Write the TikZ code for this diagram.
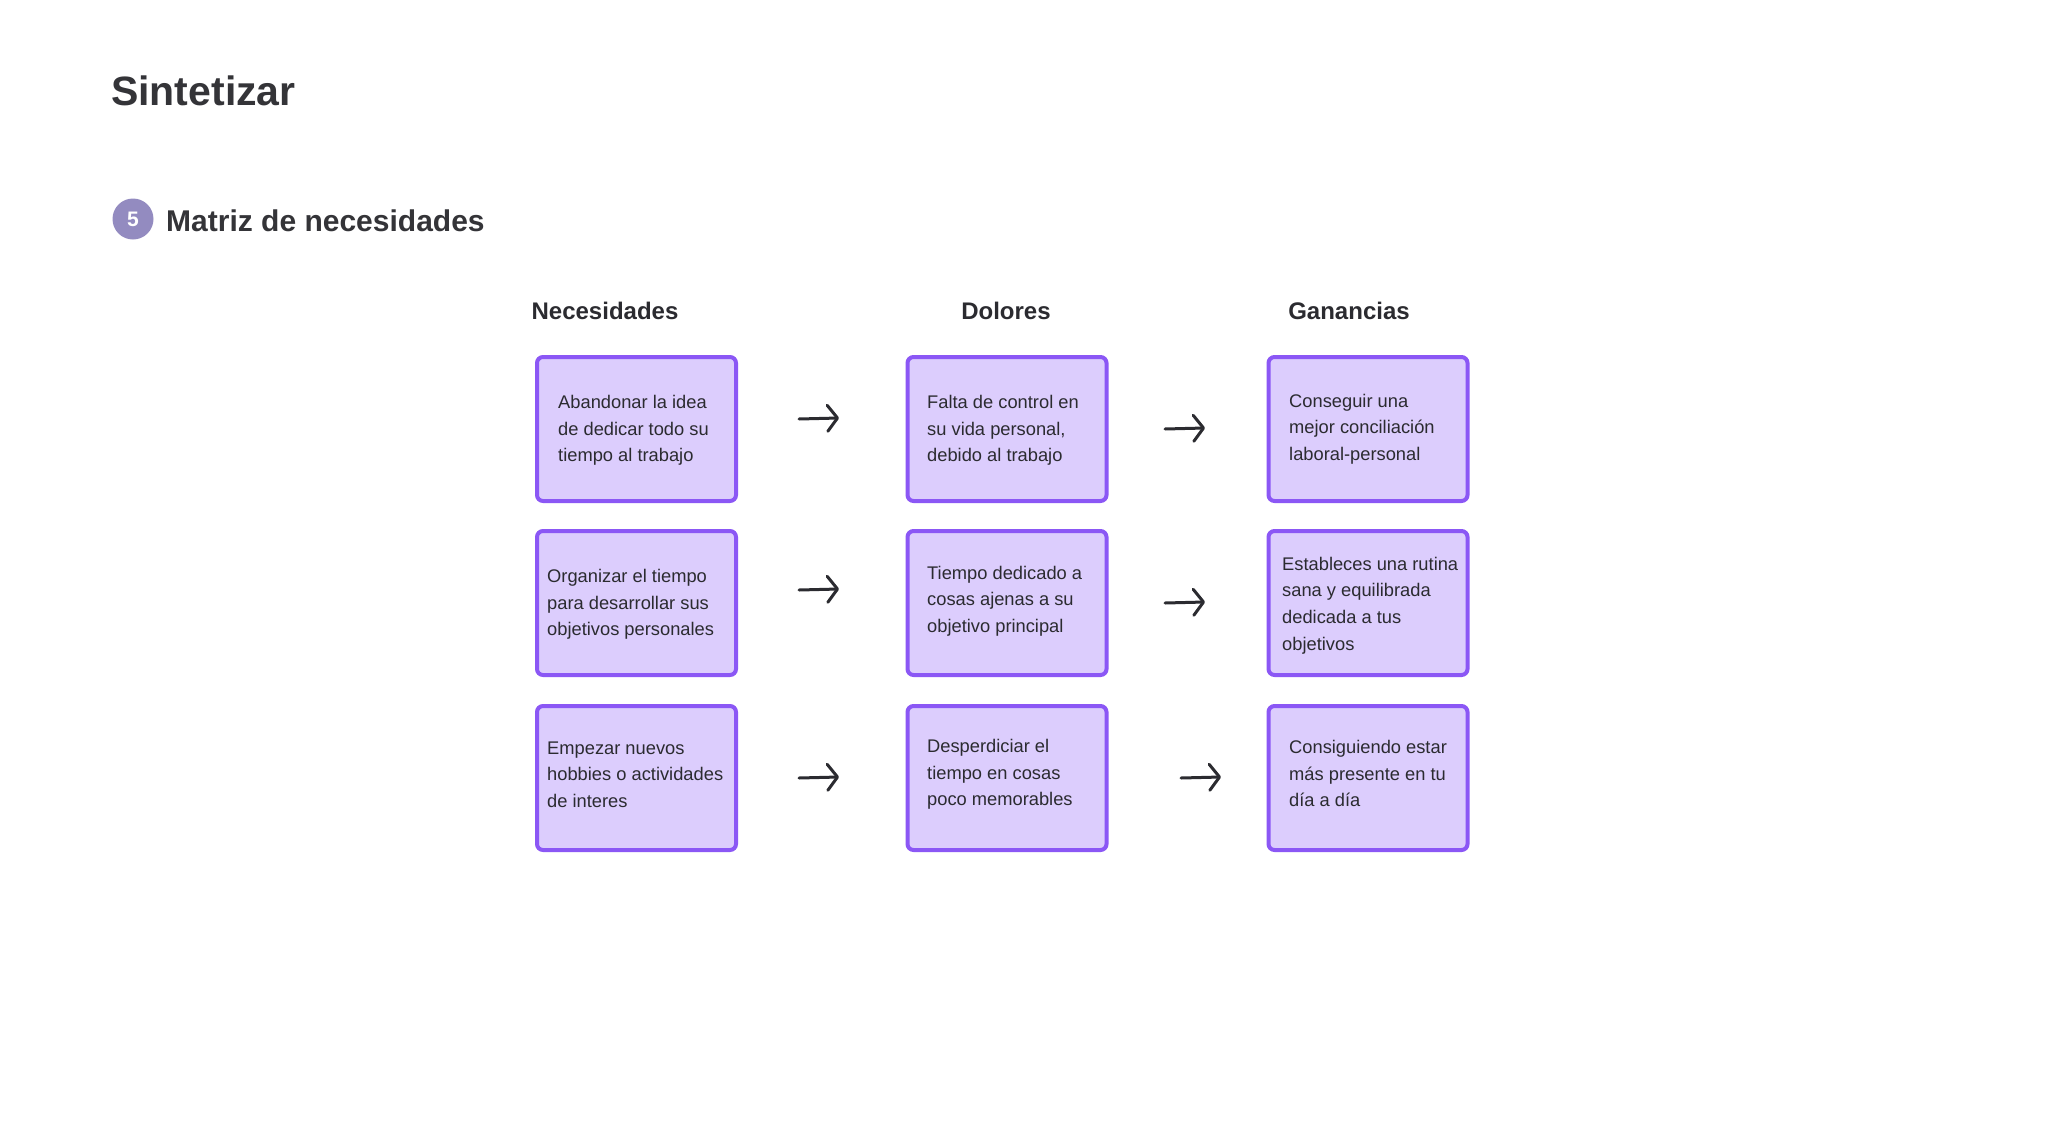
\documentclass[tikz,border=0pt]{standalone}
\usepackage{fontspec}
\setmainfont{Liberation Sans}
\usetikzlibrary{arrows.meta}
\definecolor{boxfill}{HTML}{DCCDFD}
\definecolor{boxline}{HTML}{8B57F5}
\definecolor{ink}{HTML}{2B2B30}
\definecolor{titleink}{HTML}{343438}
\definecolor{badge}{HTML}{938BC0}
\tikzset{
  cell/.style={draw=boxline, fill=boxfill, line width=4pt, rounded corners=6pt,
    minimum width=199pt, minimum height=144pt, inner sep=0pt},
  celltext/.style={anchor=west, align=left, inner sep=0pt, text=ink,
    font=\fontsize{18.3}{26.7}\selectfont},
  colhead/.style={font=\fontsize{24}{28}\selectfont\bfseries, text=ink, inner sep=0pt},
  arr/.style={line width=3pt, line cap=round, ink,
    -{Straight Barb[length=10pt,width=26pt,line width=3pt,round]}},
}
\begin{document}
\begin{tikzpicture}[x=1pt,y=-1pt]
\useasboundingbox (0,0) rectangle (2048,1143);
% titles
\node[anchor=west, inner sep=0pt, text=titleink, font=\fontsize{41}{46}\selectfont\bfseries] (title) at (111,91) {Sintetizar};
\node[circle, fill=badge, minimum size=41pt, inner sep=0pt, text=white, font=\fontsize{21}{24}\selectfont\bfseries] (badge) at (133,219) {5};
\node[anchor=west, inner sep=0pt, text=titleink, font=\fontsize{30}{34}\selectfont\bfseries] (sub) at (166,221) {Matriz de necesidades};
% column heads
\node[colhead] (hN) at (605,311) {Necesidades};
\node[colhead] (hD) at (1006,311) {Dolores};
\node[colhead] (hG) at (1349,311) {Ganancias};
% boxes
\node[cell] (n1) at (636.5,429) {};
\node[cell] (d1) at (1007,429) {};
\node[cell] (g1) at (1368,429) {};
\node[cell] (n2) at (636.5,603) {};
\node[cell] (d2) at (1007,603) {};
\node[cell] (g2) at (1368,603) {};
\node[cell] (n3) at (636.5,778) {};
\node[cell] (d3) at (1007,778) {};
\node[cell] (g3) at (1368,778) {};
% texts
\node[celltext] (tn1) at (558,430.5) {Abandonar la idea\\de dedicar todo su\\tiempo al trabajo};
\node[celltext] (td1) at (927,430.5) {Falta de control en\\su vida personal,\\debido al trabajo};
\node[celltext] (tg1) at (1289,429) {Conseguir una\\mejor conciliación\\laboral-personal};
\node[celltext] (tn2) at (547,604.5) {Organizar el tiempo\\para desarrollar sus\\objetivos personales};
\node[celltext] (td2) at (927,601) {Tiempo dedicado a\\cosas ajenas a su\\objetivo principal};
\node[celltext] (tg2) at (1282,605.5) {Estableces una rutina\\sana y equilibrada\\dedicada a tus\\objetivos};
\node[celltext] (tn3) at (547,774.5) {Empezar nuevos\\hobbies o actividades\\de interes};
\node[celltext] (td3) at (927,774.5) {Desperdiciar el\\tiempo en cosas\\poco memorables};
\node[celltext] (tg3) at (1289,773.5) {Consiguiendo estar\\más presente en tu\\día a día};
% arrows
\coordinate (a1s) at (799,419); \coordinate (a1e) at (839,418);
\coordinate (b1s) at (1165,429); \coordinate (b1e) at (1205,428);
\coordinate (a2s) at (799,590); \coordinate (a2e) at (839,589);
\coordinate (b2s) at (1165,603); \coordinate (b2e) at (1205,602);
\coordinate (a3s) at (799,778); \coordinate (a3e) at (839,777);
\coordinate (b3s) at (1181,778); \coordinate (b3e) at (1221,777);
\draw[arr] (a1s) -- (a1e);
\draw[arr] (b1s) -- (b1e);
\draw[arr] (a2s) -- (a2e);
\draw[arr] (b2s) -- (b2e);
\draw[arr] (a3s) -- (a3e);
\draw[arr] (b3s) -- (b3e);
\end{tikzpicture}
\end{document}
